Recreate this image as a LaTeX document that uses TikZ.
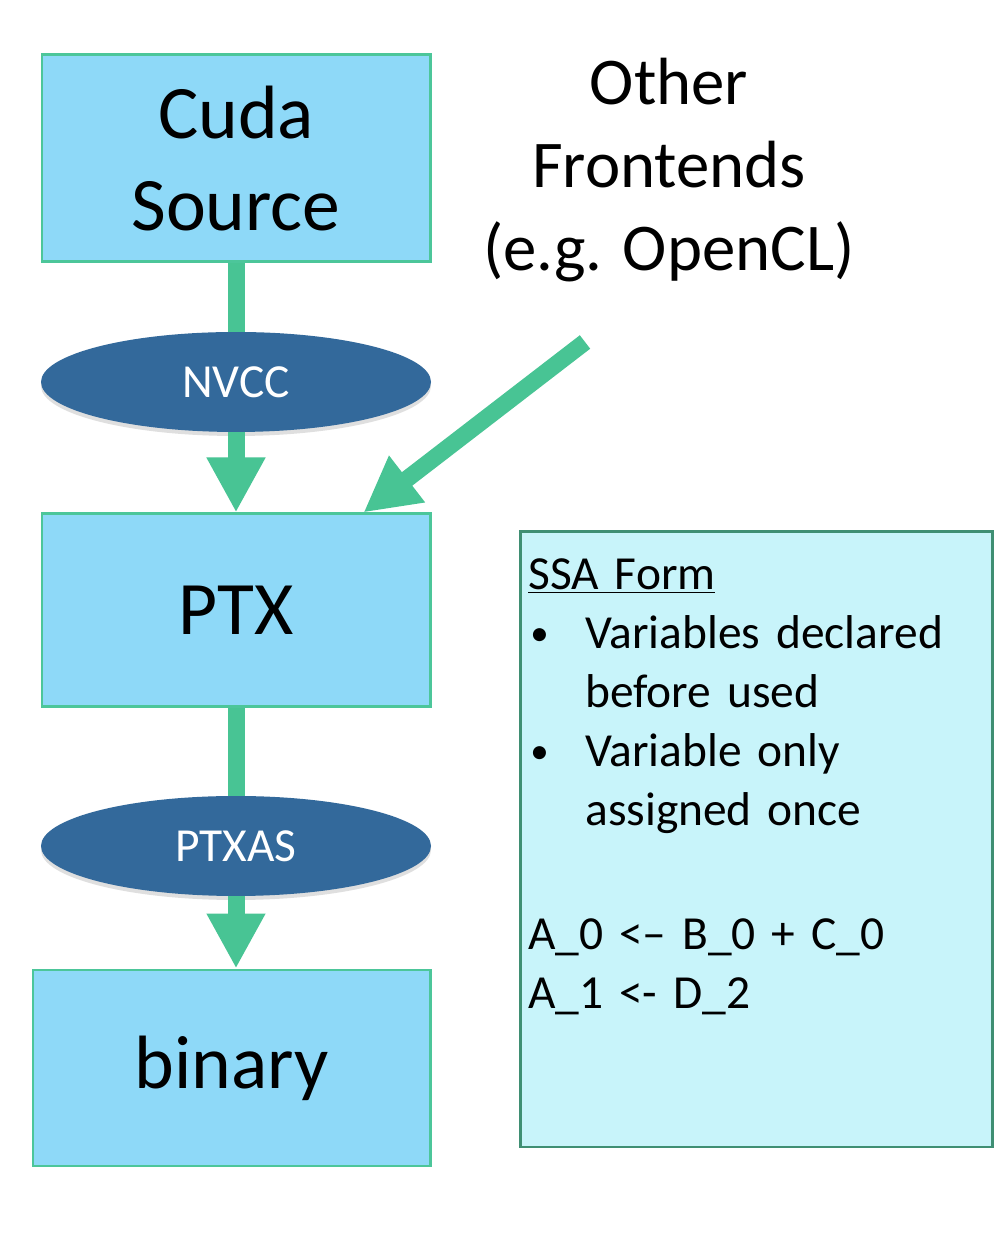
\documentclass[tikz,border=0pt]{standalone}
\usepackage{fontspec}
\setmainfont{Carlito}
\usepackage{tikz}
\usetikzlibrary{positioning,arrows.meta,shapes.geometric,shadows}
\definecolor{boxc}{HTML}{8ED9F8}
\definecolor{edgec}{HTML}{4CC69A}
\definecolor{arrowc}{HTML}{48C494}
\definecolor{toolc}{HTML}{33699B}
\definecolor{notec}{HTML}{C8F4FA}
\definecolor{noteedge}{HTML}{3F8F73}
\tikzset{
  stage/.style={draw=edgec, fill=boxc, line width=1.7pt, minimum width=7.76cm,
                align=center, font=\fontsize{43}{52}\selectfont},
  tool/.style={ellipse, fill=toolc, minimum width=7.8cm, minimum height=2cm, text=white,
               font=\fontsize{27}{31}\selectfont,
               drop shadow={shadow xshift=0pt, shadow yshift=-0.08cm, opacity=0.25}},
  shaft/.style={draw=arrowc, line width=0.34cm},
  flow/.style={shaft, -{Triangle[length=1.1cm, width=1.1cm]}},
  note/.style={draw=noteedge, fill=notec, line width=1.7pt,
               minimum width=9.44cm, minimum height=12.3cm},
  notetext/.style={anchor=north west, inner sep=0pt, align=left, text width=9cm,
                   font=\fontsize{27}{33.6}\selectfont},
}
\newcommand{\ssabullet}{\makebox[1.14cm][l]{\hspace{0.04cm}\raisebox{0.06cm}{\fontsize{21}{21}\selectfont\textbullet}}}

\begin{document}
\begin{tikzpicture}
  \path[use as bounding box, fill=white] (0,0) rectangle (20.16,25.12);

  \node[stage, minimum height=4.14cm] (cuda) at (4.72,21.95) {Cuda\\Source};
  \node[tool] (nvcc) at (4.72,17.48) {NVCC};
  \node[stage, minimum height=3.86cm] (ptx) at (4.72,12.91) {PTX};
  \node[tool] (ptxas) at (4.72,8.2) {PTXAS};
  \node[stage, minimum width=7.94cm, minimum height=3.92cm] (bin) at (4.63,3.76) {binary};

  \node[align=center, font=\fontsize{38}{47}\selectfont] (other) at (13.38,21.72)
      {Other\\Frontends\\(e.g. OpenCL)};
  \coordinate (otherend) at (11.7,18.28);

  \node[note] (ssa) at (15.12,8.33) {};
  \node[notetext] (ssatext) at (10.56,13.96)
      {\underline{SSA Form}\\
       \ssabullet Variables declared\\
       \hspace*{1.14cm}before used\\
       \ssabullet Variable only\\
       \hspace*{1.14cm}assigned once\\[37pt]
       A\_0 <-- B\_0 + C\_0\\
       A\_1 <- D\_2};

  \draw[shaft] (cuda) -- (nvcc);
  \draw[flow] (nvcc) -- (ptx);
  \draw[flow] (otherend) -- ([xshift=-1.36cm]ptx.north east);
  \draw[shaft] (ptx) -- (ptxas);
  \draw[flow] (ptxas.south) -- (ptxas.south |- bin.north);
\end{tikzpicture}
\end{document}
